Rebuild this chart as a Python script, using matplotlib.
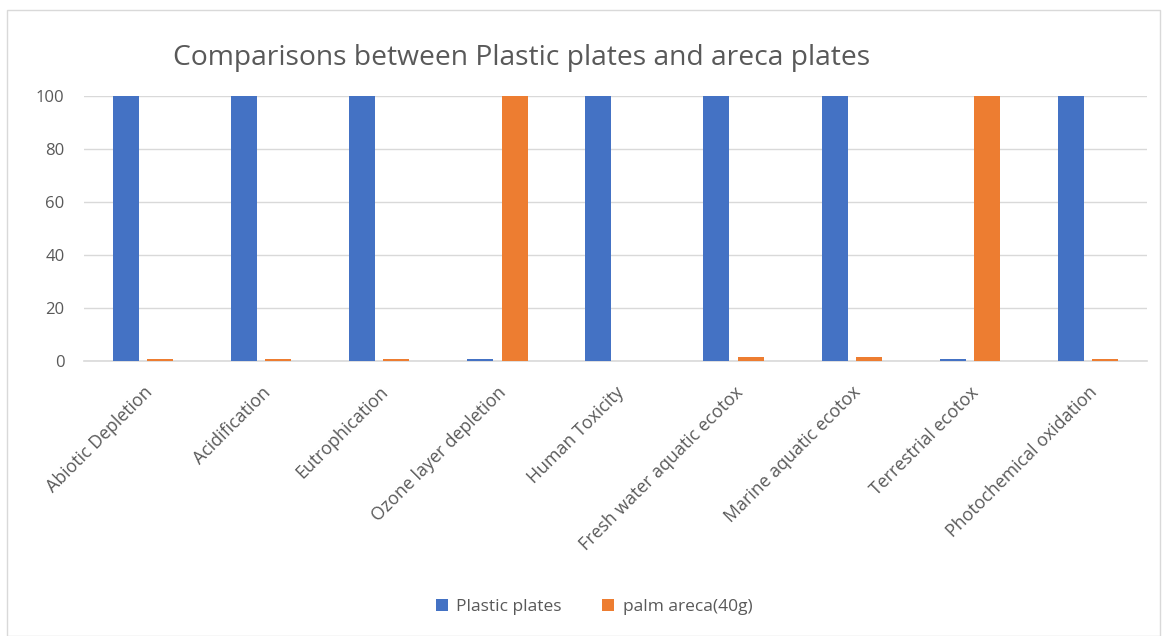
import numpy as np
import matplotlib.pyplot as plt
from matplotlib.patches import Rectangle

plt.rcParams['font.family'] = ['Open Sans', 'DejaVu Sans']

categories = ['Abiotic Depletion', 'Acidification', 'Eutrophication', 'Ozone layer depletion',
              'Human Toxicity', 'Fresh water aquatic ecotox', 'Marine aquatic ecotox',
              'Terrestrial ecotox', 'Photochemical oxidation']
plastic = [100, 100, 100, 0.8, 100, 100, 100, 0.8, 100]
areca = [0.8, 0.8, 0.8, 100, 0, 1.5, 1.5, 100, 0.8]
yticks = [0, 20, 40, 60, 80, 100]

text_col = '#595959'
blue = '#4472C4'
orange = '#ED7D31'

fig = plt.figure(figsize=(11.73, 6.36), dpi=100)
fig.patches.append(Rectangle((7 / 1173, 0), 1153 / 1173, 1 - 10 / 636, transform=fig.transFigure,
                             fill=False, edgecolor='#D9D9D9', linewidth=1))
ax = fig.add_axes([84 / 1173, 1 - 361 / 636, 1063 / 1173, 265 / 636])

x = np.arange(len(categories))
w = 0.22
ax.bar(x - 0.145, plastic, w, color=blue, label='Plastic plates', zorder=3)
ax.bar(x + 0.145, areca, w, color=orange, label='palm areca(40g)', zorder=3)

ax.set_xlim(-0.5, len(categories) - 0.5)
ax.set_ylim(0, 100)
ax.set_yticks(yticks)
ax.yaxis.grid(True, color='#D9D9D9', linewidth=1, zorder=0)
ax.tick_params(axis='both', length=0, labelcolor=text_col, labelsize=12)
ax.tick_params(axis='y', pad=14)
ax.tick_params(axis='x', pad=16, labelsize=12.8)
ax.set_xticks(x)
ax.set_xticklabels(categories, rotation=45, ha='right', rotation_mode='anchor')
for s in ['top', 'right', 'left']:
    ax.spines[s].set_visible(False)
ax.spines['bottom'].set_color('#D9D9D9')
ax.spines['bottom'].set_linewidth(1.2)

fig.text(522 / 1173, 1 - 58 / 636, 'Comparisons between Plastic plates and areca plates',
         ha='center', va='center', fontsize=20.3, color=text_col)

fig.legend(loc='center', bbox_to_anchor=(594 / 1173, 1 - 607 / 636), ncol=2, frameon=False,
           fontsize=12.5, labelcolor=text_col, handlelength=0.7, handleheight=0.7,
           columnspacing=2.3, handletextpad=0.5)

fig.savefig('out.png', dpi=100)
